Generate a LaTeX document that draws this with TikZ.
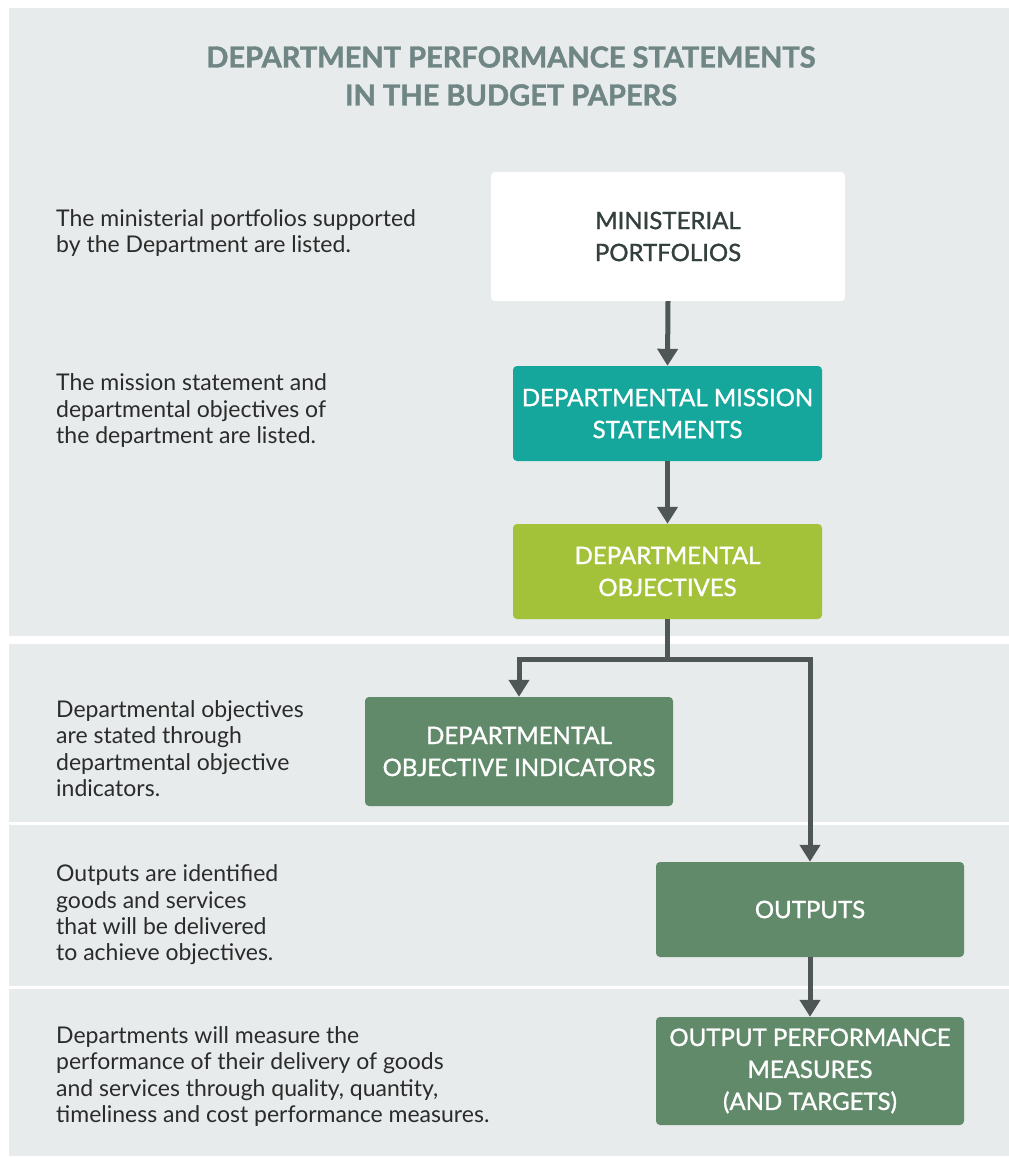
\documentclass[tikz,border=0pt]{standalone}
\usepackage{fontspec}
\setmainfont{Lato}
\newfontfamily\boxfont{Lato}[FakeBold=1.2]
\newfontfamily\titlefont{Lato}[BoldFeatures={FakeBold=1.5}]
\usetikzlibrary{arrows.meta}
\definecolor{panel}{HTML}{E7EBEB}
\definecolor{titlec}{HTML}{6F8685}
\definecolor{tealc}{HTML}{15A69C}
\definecolor{limec}{HTML}{A3C23A}
\definecolor{sagec}{HTML}{618A6A}
\definecolor{arrowc}{HTML}{4F5756}
\definecolor{darktext}{HTML}{33403E}
\definecolor{bodytext}{HTML}{2B2B2B}
\tikzset{
  flowbox/.style={rectangle, rounded corners=4pt, inner sep=0pt, align=center,
    text=white, font=\boxfont\fontsize{24}{32}\selectfont},
  desc/.style={anchor=west, inner sep=0pt, align=left, text=bodytext,
    font=\fontsize{23}{26.3}\selectfont},
  flow/.style={draw=arrowc, line width=5pt, line join=miter,
    -{Triangle[width=20pt,length=17pt]}},
}
\begin{document}
\begin{tikzpicture}[x=1pt,y=-1pt]
\useasboundingbox (0,0) rectangle (1009,1157);
\fill[white] (0,0) rectangle (1009,1157);
% panels
\fill[panel] (9,8) rectangle (1009,636);
\fill[panel] (9,644) rectangle (1009,822);
\fill[panel] (9,825) rectangle (1009,986);
\fill[panel] (9,989) rectangle (1009,1156);

% title
\node[align=center, text=titlec, inner sep=0pt,
  font=\titlefont\bfseries\fontsize{29}{38}\selectfont] (title) at (511,76)
  {DEPARTMENT PERFORMANCE STATEMENTS\\IN THE BUDGET PAPERS};

% boxes
\node[flowbox, fill=white, text=darktext, minimum width=354pt, minimum height=129pt]
  (mp) at (668,236.5) {MINISTERIAL\\PORTFOLIOS};
\node[flowbox, fill=tealc, minimum width=309pt, minimum height=95pt]
  (dms) at (667.5,413.5) {DEPARTMENTAL MISSION\\STATEMENTS};
\node[flowbox, fill=limec, minimum width=309pt, minimum height=95pt]
  (dobj) at (667.5,571.5) {DEPARTMENTAL\\OBJECTIVES};
\node[flowbox, fill=sagec, minimum width=308pt, minimum height=109pt]
  (doi) at (519,751.5) {DEPARTMENTAL\\OBJECTIVE INDICATORS};
\node[flowbox, fill=sagec, minimum width=308pt, minimum height=95pt]
  (out) at (810,909.5) {OUTPUTS};
\node[flowbox, fill=sagec, minimum width=308pt, minimum height=108pt]
  (opm) at (810,1071) {OUTPUT PERFORMANCE\\MEASURES\\(AND TARGETS)};

% descriptions
\node[desc] (t1) at (56,233) {The ministerial portfolios supported\\by the Department are listed.};
\node[desc] (t2) at (56,410.5) {The mission statement and\\departmental objectives of\\the department are listed.};
\node[desc] (t3) at (56,748.5) {Departmental objectives\\are stated through\\departmental objective\\indicators.};
\node[desc] (t4) at (56,915) {Outputs are identified\\goods and services\\that will be delivered\\to achieve objectives.};
\node[desc] (t5) at (56,1076.5) {Departments will measure the\\performance of their delivery of goods\\and services through quality, quantity,\\timeliness and cost performance measures.};

% connectors
\coordinate (split) at (667.5,659);
\draw[flow] (mp.south) -- (dms.north);
\draw[flow] (dms.south) -- (dobj.north);
\draw[draw=arrowc, line width=5pt] (dobj.south) -- (split);
\draw[flow] (split) -| (doi.north);
\draw[flow] (split) -| (out.north);
\draw[flow] (out.south) -- (opm.north);
\end{tikzpicture}
\end{document}
